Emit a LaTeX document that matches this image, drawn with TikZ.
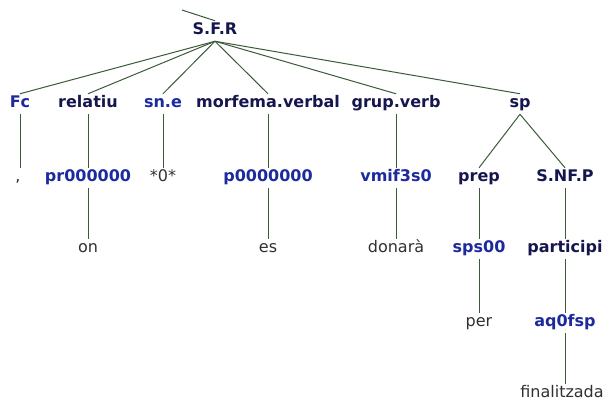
\documentclass[tikz,border=0pt]{standalone}
\usepackage{fontspec}
\setmainfont{DejaVu Sans}
\definecolor{catcol}{HTML}{16164E}
\definecolor{tagcol}{HTML}{1C2A9C}
\definecolor{wordcol}{HTML}{303030}
\definecolor{edgecol}{HTML}{3A5A3A}
\begin{document}
\begin{tikzpicture}[x=1pt,y=-1pt,line width=1pt,
    every node/.style={inner sep=2pt,text height=11.7pt,text depth=3.8pt,font=\fontsize{16}{19}\selectfont},
    cat/.style={text=catcol,font=\fontsize{16}{19}\selectfont\bfseries},
    tag/.style={text=tagcol,font=\fontsize{16}{19}\selectfont\bfseries},
    word/.style={text=wordcol},
    edge/.style={draw=edgecol}]
  \useasboundingbox (0,0) rectangle (604,405);

  \coordinate (up) at (182,10);
  \node[cat] (sfr) at (215,31) {S.F.R};

  \node[tag] (fc) at (20,104) {Fc};
  \node[cat] (rel) at (88,104) {relatiu};
  \node[tag] (sne) at (163,104) {sn.e};
  \node[cat] (morf) at (268,104) {morfema.verbal};
  \node[cat] (grup) at (396,104) {grup.verb};
  \node[cat] (sp) at (520,104) {sp};

  \node[word] (comma) at (18,178) {,};
  \node[tag] (pr) at (88,178) {pr000000};
  \node[word] (zero) at (163,178) {*0*};
  \node[tag] (p0) at (268,178) {p0000000};
  \node[tag] (vmif) at (396,178) {vmif3s0};
  \node[cat] (prep) at (479,178) {prep};
  \node[cat] (snfp) at (565,178) {S.NF.P};

  \node[word] (on) at (88,249) {on};
  \node[word] (es) at (268,249) {es};
  \node[word] (don) at (396,249) {donarà};
  \node[tag] (sps) at (479,249) {sps00};
  \node[cat] (part) at (565,249) {participi};

  \node[word] (per) at (479,323) {per};
  \node[tag] (aq) at (565,323) {aq0fsp};

  \node[word] (fin) at (562,394) {finalitzada};

  \draw[edge] (up) -- (sfr.north);
  \foreach \c in {fc,rel,sne,morf,grup,sp}
    \draw[edge] (sfr.south) -- (\c.north);
  \draw[edge] (fc.south) -- (fc.south |- comma.north);
  \draw[edge] (rel) -- (pr);
  \draw[edge] (sne) -- (zero);
  \draw[edge] (morf) -- (p0);
  \draw[edge] (grup) -- (vmif);
  \draw[edge] (sp.south) -- (prep.north);
  \draw[edge] (sp.south) -- (snfp.north);
  \draw[edge] (pr) -- (on);
  \draw[edge] (p0) -- (es);
  \draw[edge] (vmif) -- (don);
  \draw[edge] (prep) -- (sps);
  \draw[edge] (snfp) -- (part);
  \draw[edge] (sps) -- (per);
  \draw[edge] (part) -- (aq);
  \draw[edge] (aq.south) -- (aq.south |- fin.north);
\end{tikzpicture}
\end{document}
